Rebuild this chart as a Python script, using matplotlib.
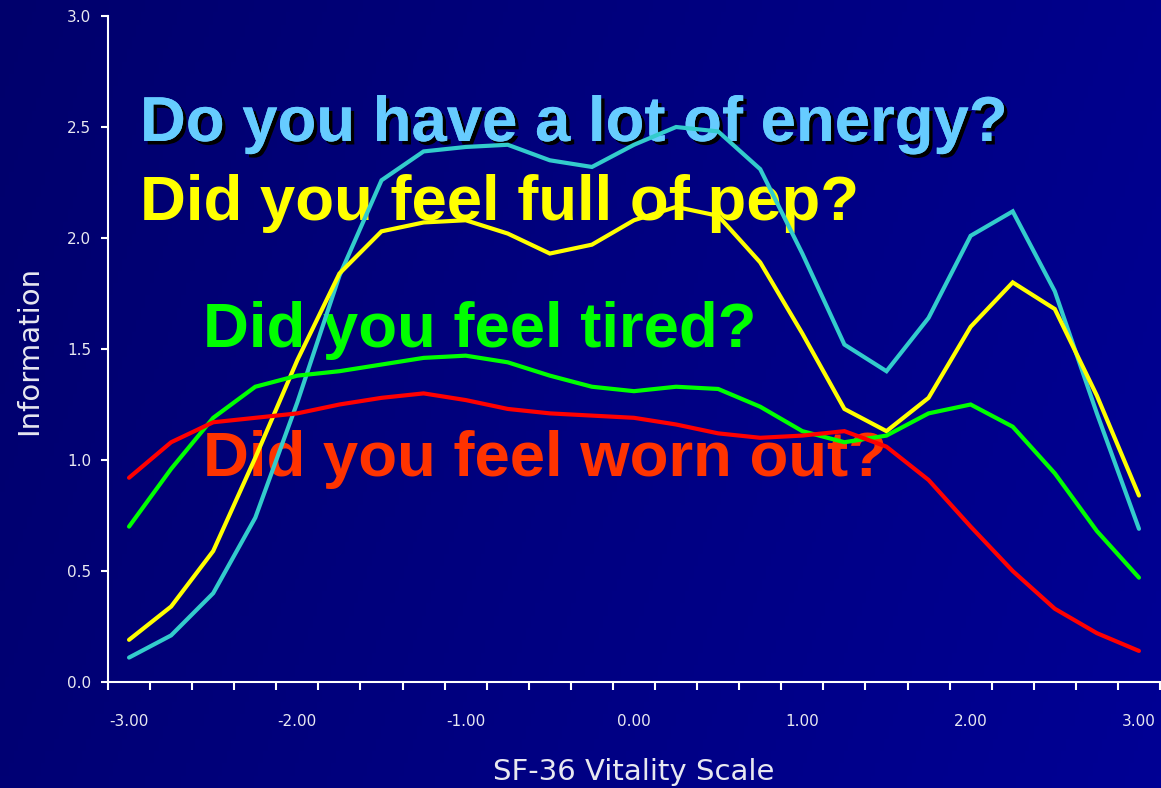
import numpy as np
import matplotlib
matplotlib.use("Agg")
import matplotlib.pyplot as plt
import matplotlib.patheffects as pe
from matplotlib.ticker import FixedLocator

# ---- data ----
theta = [-3.00, -2.75, -2.50, -2.25, -2.00, -1.75, -1.50, -1.25, -1.00, -0.75,
         -0.50, -0.25, 0.00, 0.25, 0.50, 0.75, 1.00, 1.25, 1.50, 1.75,
         2.00, 2.25, 2.50, 2.75, 3.00]
energy = [0.11, 0.21, 0.40, 0.74, 1.26, 1.83, 2.26, 2.39, 2.41, 2.42,
          2.35, 2.32, 2.42, 2.50, 2.48, 2.31, 1.93, 1.52, 1.40, 1.64,
          2.01, 2.12, 1.76, 1.21, 0.69]
pep = [0.19, 0.34, 0.59, 1.01, 1.45, 1.84, 2.03, 2.07, 2.08, 2.02,
       1.93, 1.97, 2.08, 2.14, 2.10, 1.89, 1.57, 1.23, 1.13, 1.28,
       1.60, 1.80, 1.68, 1.29, 0.84]
tired = [0.70, 0.96, 1.19, 1.33, 1.38, 1.40, 1.43, 1.46, 1.47, 1.44,
         1.38, 1.33, 1.31, 1.33, 1.32, 1.24, 1.13, 1.08, 1.11, 1.21,
         1.25, 1.15, 0.94, 0.68, 0.47]
wornout = [0.92, 1.08, 1.17, 1.19, 1.21, 1.25, 1.28, 1.30, 1.27, 1.23,
           1.21, 1.20, 1.19, 1.16, 1.12, 1.10, 1.11, 1.13, 1.06, 0.91,
           0.70, 0.50, 0.33, 0.22, 0.14]
xtick_vals = [-3, -2, -1, 0, 1, 2, 3]
xtick_labels = ["-3.00", "-2.00", "-1.00", "0.00", "1.00", "2.00", "3.00"]
ytick_vals = [0.0, 0.5, 1.0, 1.5, 2.0, 2.5, 3.0]
ytick_labels = ["0.0", "0.5", "1.0", "1.5", "2.0", "2.5", "3.0"]
questions = ["Do you have a lot of energy?", "Did you feel full of pep?",
             "Did you feel tired?", "Did you feel worn out?"]

W, H = 1161, 788
fig = plt.figure(figsize=(W / 100, H / 100), dpi=100)

# background gradient
bg = fig.add_axes([0, 0, 1, 1], zorder=-10)
gx = np.linspace(0, 1, 256)
gy = np.linspace(0, 1, 64)
GX, GY = np.meshgrid(gx, gy)
t = 0.8 * GX + 0.2 * GY
img = np.zeros((64, 256, 3))
img[..., 2] = (108 + (148 - 108) * t) / 255.0
bg.imshow(img, aspect="auto", extent=[0, 1, 0, 1], origin="upper")
bg.axis("off")

ax = fig.add_axes([108 / W, 1 - 682 / H, (1160 - 108) / W, (682 - 16) / H])
ax.set_facecolor("none")

lw = 3.0
ax.plot(theta, energy, color="#33CCCC", lw=lw, solid_capstyle="round", solid_joinstyle="miter", zorder=3)
ax.plot(theta, pep, color="#FFFF00", lw=lw, solid_capstyle="round", solid_joinstyle="miter", zorder=3)
ax.plot(theta, tired, color="#00FF00", lw=lw, solid_capstyle="round", solid_joinstyle="miter", zorder=3)
ax.plot(theta, wornout, color="#FF0000", lw=lw, solid_capstyle="round", solid_joinstyle="miter", zorder=3)

ax.set_xlim(-3.125, 3.125)
ax.set_ylim(0, 3.0)

for s in ["top", "right"]:
    ax.spines[s].set_visible(False)
for s in ["left", "bottom"]:
    ax.spines[s].set_color("white")
    ax.spines[s].set_linewidth(1.5)

tc = "#E8E8F0"
ax.set_yticks(ytick_vals)
ax.set_yticklabels(ytick_labels)
ax.tick_params(axis="y", colors="white", labelcolor=tc, length=5, width=1.5,
               direction="out", labelsize=11, pad=7)
ax.set_xticks(xtick_vals)
ax.set_xticklabels(xtick_labels)
ax.xaxis.set_minor_locator(FixedLocator([-3.125 + 0.25 * k for k in range(26)]))
ax.tick_params(axis="x", which="major", length=0, labelcolor=tc, labelsize=11, pad=23)
ax.tick_params(axis="x", which="minor", colors="white", length=6, width=1.5, direction="out")

fig.text(634 / W, 1 - 772 / H, "SF-36 Vitality Scale", color=tc, fontsize=21,
         ha="center", va="center", family="DejaVu Sans")
fig.text(29 / W, 1 - 350 / H, "Information", color=tc, fontsize=21, rotation=90,
         ha="center", va="center", family="DejaVu Sans")

fs = 45.7
tf = fig.transFigure
txt = ax.text(140 / W, 1 - 141 / H, questions[0], color="#66CCFF", fontsize=fs,
              fontweight="bold", family="Liberation Sans", va="baseline",
              transform=tf, zorder=1, clip_on=False)
txt.set_path_effects([pe.withSimplePatchShadow(offset=(2.5, -2.5), shadow_rgbFace="black", alpha=1.0),
                      pe.Normal()])
ax.text(140 / W, 1 - 220 / H, questions[1], color="#FFFF00", fontsize=fs,
        fontweight="bold", family="Liberation Sans", va="baseline",
        transform=tf, zorder=1, clip_on=False)
ax.text(203 / W, 1 - 347 / H, questions[2], color="#00FF00", fontsize=fs,
        fontweight="bold", family="Liberation Sans", va="baseline",
        transform=tf, zorder=1, clip_on=False)
ax.text(203 / W, 1 - 476 / H, questions[3], color="#FF3300", fontsize=fs,
        fontweight="bold", family="Liberation Sans", va="baseline",
        transform=tf, zorder=1, clip_on=False)

fig.savefig("out.png", dpi=100)
